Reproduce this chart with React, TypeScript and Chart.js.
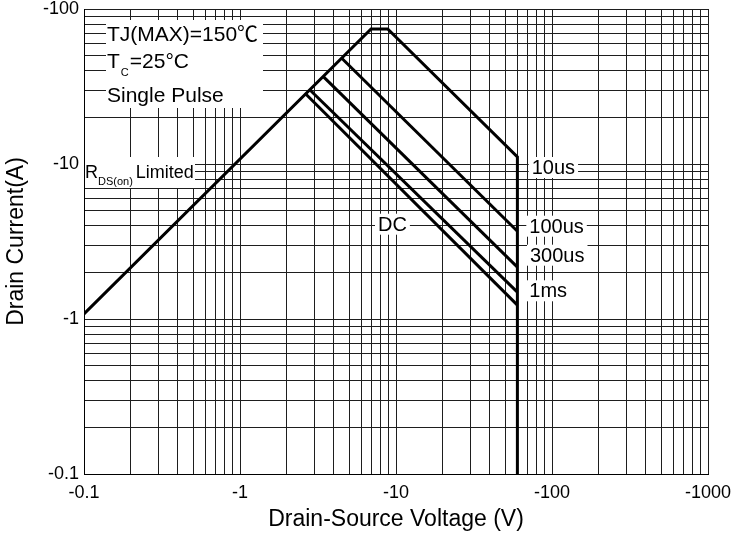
import React, { useEffect, useRef } from "react";
import { Chart, registerables } from "chart.js";

Chart.register(...registerables);

// Axis ranges and grid
const X_MIN = 0.1;
const X_MAX = 1000;
const Y_MIN = 0.1;
const Y_MAX = 100;
const X_DECADES = [0.1, 1, 10, 100];
const Y_DECADES = [0.1, 1, 10];
const MANTISSAS = [1, 2, 3, 4, 5, 6, 7, 8, 9];
const X_LABEL_VALUES = [0.1, 1, 10, 100, 1000];
const X_TICK_LABELS = ["-0.1", "-1", "-10", "-100", "-1000"];
const Y_LABEL_VALUES = [0.1, 1, 10, 100];
const Y_TICK_LABELS = ["-0.1", "-1", "-10", "-100"];

// Series (|VDS| in V, |ID| in A)
const V_10US = [0.1, 6.92, 8.85, 60, 60];
const I_10US = [1.08, 74.3, 74.3, 11.1, 0.1];
const V_100US = [4.49, 60];
const I_100US = [48.1, 3.68];
const V_300US = [3.42, 60];
const I_300US = [36.6, 2.16];
const V_1MS = [2.81, 60];
const I_1MS = [30.0, 1.49];
const V_DC = [2.61, 60];
const I_DC = [28.6, 1.23];

const SERIES = [
  { name: "10us", v: V_10US, i: I_10US },
  { name: "100us", v: V_100US, i: I_100US },
  { name: "300us", v: V_300US, i: I_300US },
  { name: "1ms", v: V_1MS, i: I_1MS },
  { name: "DC", v: V_DC, i: I_DC },
];

const FONT = "'Liberation Sans', Arial, 'Noto Sans CJK SC', sans-serif";

function gridValues(decades: number[], max: number) {
  const out: number[] = [];
  decades.forEach((d) => MANTISSAS.forEach((m) => out.push(+(m * d).toPrecision(3))));
  out.push(max);
  return out;
}

function labelFor(values: number[], labels: string[], v: number) {
  const idx = values.findIndex((x) => Math.abs(x - v) / x < 1e-6);
  return idx >= 0 ? labels[idx] : "";
}

const textPlugin = {
  id: "soaText",
  beforeDatasetsDraw(chart: any) {
    const { ctx, chartArea } = chart;
    const L = chartArea.left;
    const T = chartArea.top;
    ctx.save();
    ctx.textBaseline = "alphabetic";
    ctx.textAlign = "left";

    const drawParts = (x: number, y: number, parts: any[]) => {
      let cx = x;
      parts.forEach((p) => {
        ctx.font = `${p.size}px ${FONT}`;
        ctx.fillStyle = "#000";
        ctx.fillText(p.text, cx, y + (p.dy || 0));
        cx += ctx.measureText(p.text).width + (p.gap || 0);
      });
      return cx;
    };

    // white boxes
    ctx.fillStyle = "#fff";
    ctx.fillRect(L + 22, T + 11, 157, 88);
    ctx.fillRect(L + 1, T + 148, 110, 31);

    const small = [
      { t: "10us", x: 447.7, y: 165 },
      { t: "100us", x: 445.3, y: 223.7 },
      { t: "300us", x: 446, y: 252.7 },
      { t: "1ms", x: 445.3, y: 288.3 },
      { t: "DC", x: 294, y: 221.7 },
    ];
    ctx.font = `20px ${FONT}`;
    small.forEach((s) => {
      const w = ctx.measureText(s.t).width;
      ctx.fillStyle = "#fff";
      ctx.fillRect(L + s.x - 3, T + s.y - 17, w + 6, 21);
    });
    ctx.fillStyle = "#000";
    small.forEach((s) => {
      ctx.font = `20px ${FONT}`;
      ctx.fillText(s.t, L + s.x, T + s.y);
    });

    drawParts(L + 23, T + 31.7, [{ text: "TJ(MAX)=150℃", size: 21 }]);
    drawParts(L + 23, T + 58.7, [
      { text: "T", size: 21, gap: 1 },
      { text: "C", size: 11, dy: 8, gap: 1 },
      { text: "=25°C", size: 21 },
    ]);
    drawParts(L + 23, T + 92.7, [{ text: "Single Pulse", size: 21 }]);
    drawParts(L + 1, T + 169.3, [
      { text: "R", size: 18, gap: 0 },
      { text: "DS(on)", size: 11, dy: 7, gap: 3 },
      { text: "Limited", size: 18 },
    ]);
    ctx.restore();
  },
};

export default function App() {
  const ref = useRef<HTMLCanvasElement | null>(null);

  useEffect(() => {
    if (!ref.current) return;
    const xGrid = gridValues(X_DECADES, X_MAX);
    const yGrid = gridValues(Y_DECADES, Y_MAX);

    const chart = new Chart(ref.current, {
      type: "scatter",
      data: {
        datasets: SERIES.map((s) => ({
          label: s.name,
          data: s.v.map((v, k) => ({ x: v, y: s.i[k] })),
          showLine: true,
          borderColor: "#000",
          borderWidth: 3,
          pointRadius: 0,
          fill: false,
          tension: 0,
        })),
      },
      options: {
        animation: false,
        responsive: false,
        devicePixelRatio: 1,
        layout: { padding: { top: 9, right: 28, left: 0, bottom: 0 } },
        plugins: { legend: { display: false }, tooltip: { enabled: false } },
        scales: {
          x: {
            type: "logarithmic",
            min: X_MIN,
            max: X_MAX,
            grid: { color: "#1e1e1e", lineWidth: 1, drawTicks: false },
            border: { display: true, color: "#000", width: 1 },
            ticks: {
              autoSkip: false,
              maxRotation: 0,
              padding: 8,
              color: "#000",
              font: { family: FONT, size: 18 },
              callback: (v: any) => labelFor(X_LABEL_VALUES, X_TICK_LABELS, Number(v)),
            },
            title: {
              display: true,
              text: "Drain-Source Voltage (V)",
              color: "#000",
              font: { family: FONT, size: 23 },
              padding: { top: 0, bottom: 9 },
            },
            afterBuildTicks: (scale: any) => {
              scale.ticks = xGrid.map((v) => ({ value: v }));
            },
            afterFit: (scale: any) => {
              scale.height = 68;
              scale.paddingLeft = 0;
              scale.paddingRight = 0;
            },
          },
          y: {
            type: "logarithmic",
            min: Y_MIN,
            max: Y_MAX,
            grid: { color: "#1e1e1e", lineWidth: 1, drawTicks: false },
            border: { display: true, color: "#000", width: 1 },
            ticks: {
              autoSkip: false,
              padding: 5,
              color: "#000",
              font: { family: FONT, size: 18 },
              callback: (v: any) => labelFor(Y_LABEL_VALUES, Y_TICK_LABELS, Number(v)),
            },
            title: {
              display: true,
              text: "Drain Current(A)",
              color: "#000",
              font: { family: FONT, size: 23 },
              padding: { top: 3, bottom: 0 },
            },
            afterBuildTicks: (scale: any) => {
              scale.ticks = yGrid.map((v) => ({ value: v }));
            },
            afterFit: (scale: any) => {
              scale.width = 84;
              scale.paddingTop = 0;
              scale.paddingBottom = 0;
            },
          },
        },
      } as any,
      plugins: [textPlugin],
    });
    return () => chart.destroy();
  }, []);

  return (
    <div style={{ position: "absolute", left: 0, top: 0, width: 736, height: 542, background: "#fff" }}>
      <canvas ref={ref} width={736} height={542} style={{ display: "block" }} />
    </div>
  );
}
